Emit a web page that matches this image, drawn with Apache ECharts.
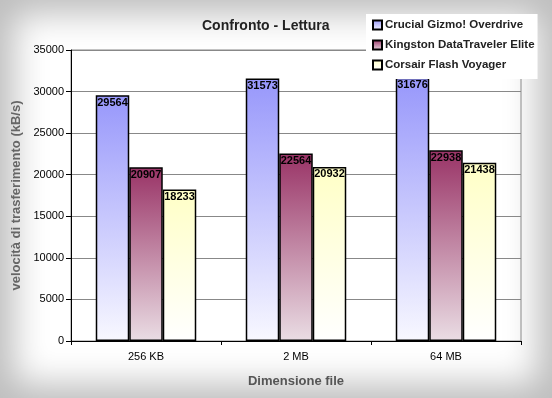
<!DOCTYPE html>
<html><head><meta charset="utf-8">
<script src="https://cdn.jsdelivr.net/npm/echarts@6/dist/echarts.min.js"></script>
<style>
html,body{margin:0;padding:0;}
#c{width:552px;height:398px;background:#fff;box-shadow:inset 0 0 34px 14px #bdbdbd;}
</style></head>
<body><div id="c"></div>
<script>
const categories = ['256 KB', '2 MB', '64 MB'];
const seriesNames = ['Crucial Gizmo! Overdrive', 'Kingston DataTraveler Elite', 'Corsair Flash Voyager'];
const crucial = [29564, 31573, 31676];
const kingston = [20907, 22564, 22938];
const corsair = [18233, 20932, 21438];
const yTicks = [0, 5000, 10000, 15000, 20000, 25000, 30000, 35000];

const FONT = '"Liberation Sans", Arial';
const grads = [
  ['#9797fb', '#f8f8ff'],
  ['#993366', '#eadde4'],
  ['#ffffc6', '#ffffff']
];
function grad(c){ return new echarts.graphic.LinearGradient(0,0,0,1,[{offset:0,color:c[0]},{offset:1,color:c[1]}]); }
const datas = [crucial, kingston, corsair];
const chart = echarts.init(document.getElementById('c'), null, {renderer:'canvas'});
chart.setOption({
  animation:false,
  backgroundColor:'transparent',
  title:{text:'Confronto - Lettura', left:197, top:14,
    textStyle:{fontFamily:FONT, fontWeight:'bold', fontSize:14, color:'#222'}},
  legend:{orient:'vertical', left:366, top:14, itemWidth:9, itemHeight:9, itemGap:8,
    icon:'rect', backgroundColor:'#fff', padding:[5,3,8,6],
    data:seriesNames,
    textStyle:{fontFamily:FONT, fontWeight:'bold', fontSize:11.5, color:'#222', padding:[0,0,0,-2]}},
  grid:{left:71, right:31, top:50, bottom:57, show:true, borderColor:'#888', borderWidth:1, backgroundColor:'transparent'},
  xAxis:{type:'category', data:categories, boundaryGap:true,
    name:'Dimensione file', nameLocation:'middle', nameGap:34,
    nameTextStyle:{fontFamily:FONT, fontWeight:'bold', fontSize:13, color:'#555'},
    axisLine:{lineStyle:{color:'#000', width:1}},
    axisTick:{show:true, length:4, lineStyle:{color:'#000'}},
    axisLabel:{fontFamily:FONT, fontSize:11, color:'#000', margin:10}},
  yAxis:{type:'value', min:yTicks[0], max:yTicks[yTicks.length-1], interval:5000,
    name:'velocità di trasferimento (kB/s)', nameLocation:'middle', nameGap:43,
    nameTextStyle:{fontFamily:FONT, fontWeight:'bold', fontSize:13, color:'#666'},
    axisLine:{show:true, lineStyle:{color:'#000', width:1}},
    axisTick:{show:true, length:5, lineStyle:{color:'#000'}},
    axisLabel:{fontFamily:FONT, fontSize:11, color:'#000', margin:7, formatter:v=>String(v)},
    splitLine:{lineStyle:{color:'#888', width:1}}},
  series: seriesNames.map((n,i)=>({
    name:n, type:'bar', data:datas[i], barGap:'0%', barCategoryGap:'33%',
    itemStyle:{color:grad(grads[i]), borderColor:'#000', borderWidth:1.5},
    label:{show:true, position:'insideTop', distance:2,
      fontFamily:FONT, fontWeight:'bold', fontSize:11, color:'#000'}
  }))
});
</script></body></html>
